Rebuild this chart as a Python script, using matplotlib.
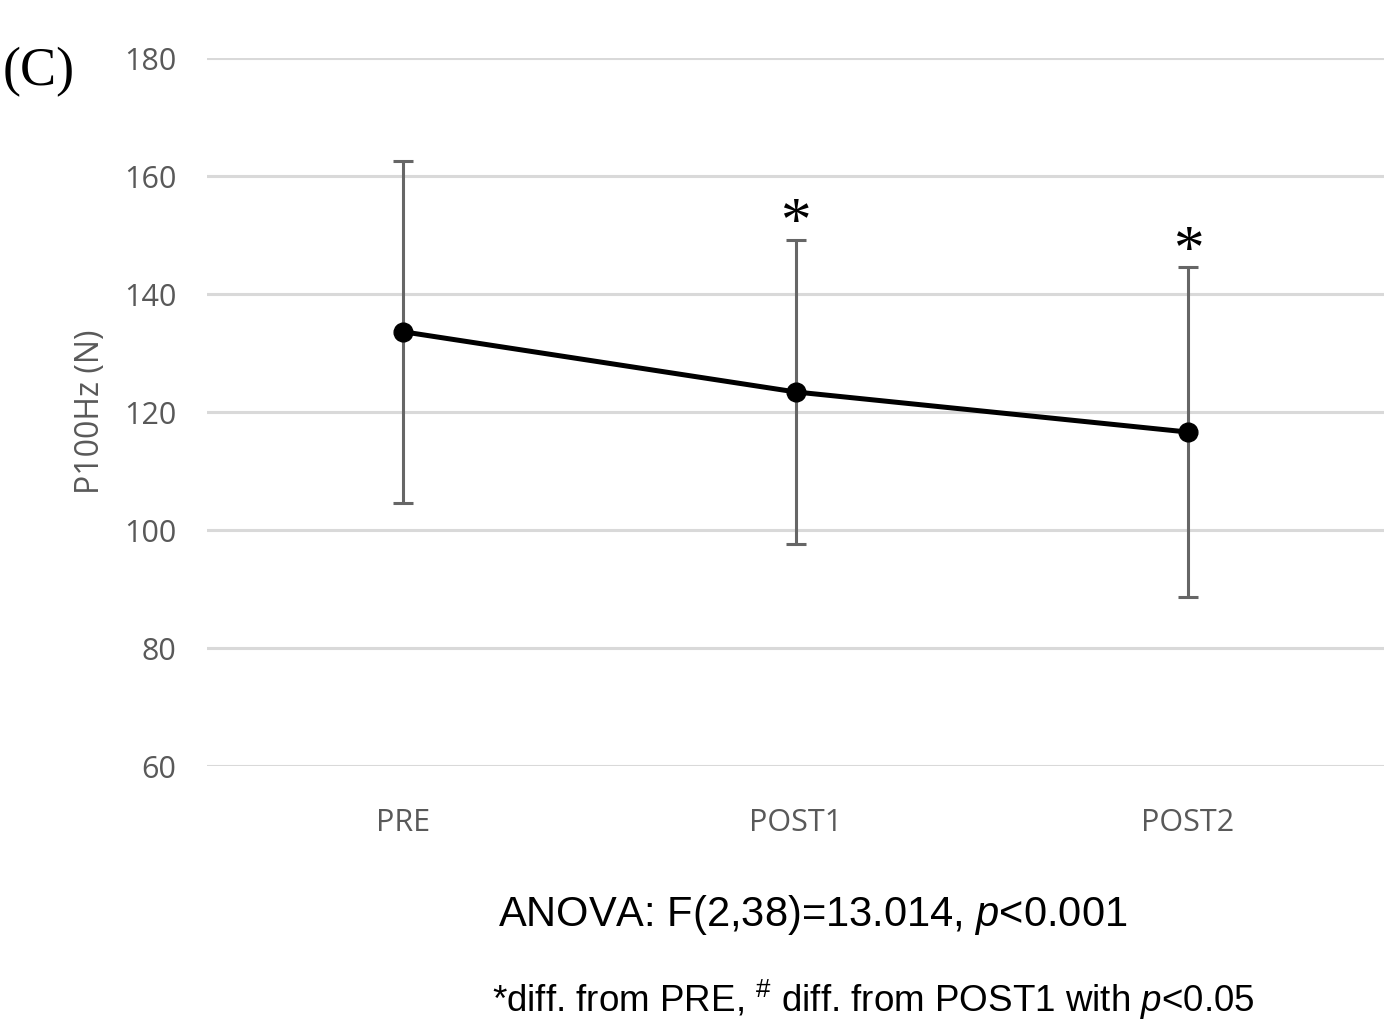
import matplotlib.pyplot as plt
import numpy as np

# P100Hz force at each time point (mean +/- SD)
categories = ['PRE', 'POST1', 'POST2']
means = [133.6, 123.4, 116.6]
sds = [29.0, 25.8, 27.9]
marks = ['', '*', '*']

plt.rcParams['mathtext.fontset'] = 'custom'
plt.rcParams['mathtext.rm'] = 'Liberation Sans'
plt.rcParams['mathtext.it'] = 'Liberation Sans:italic'

fig = plt.figure(figsize=(13.94, 10.25), dpi=100)
ax = fig.add_axes([207/1394, 1-766/1025, (1384-207)/1394, (766-58)/1025])

x = np.arange(len(categories))
ax.errorbar(x, means, yerr=sds, fmt='none', ecolor='#666666', elinewidth=2.2,
            capsize=7, capthick=2.2, zorder=2)
ax.plot(x, means, '-o', color='black', lw=3.6, ms=13.5, zorder=3)

for xi, m, s, mk in zip(x, means, sds, marks):
    if mk:
        ax.annotate(mk, (xi, m + s), xytext=(0, 0.5), textcoords='offset points',
                    ha='center', va='baseline', fontsize=44, family='Liberation Serif')

ax.set_xlim(-0.5, 2.5)
ax.set_ylim(60, 180)
ax.set_yticks(range(60, 181, 20))
ax.set_xticks(x)
ax.set_xticklabels(categories)
ax.yaxis.grid(True, color='#d9d9d9', lw=2.2)
ax.set_axisbelow(True)
for sp in ax.spines.values():
    sp.set_visible(False)
ax.tick_params(length=0, labelsize=22, labelcolor='#595959', pad=22)
ax.tick_params(axis='x', pad=30)
for lab in ax.get_xticklabels() + ax.get_yticklabels():
    lab.set_family('Open Sans')
ax.set_ylabel('P100Hz (N)', fontsize=23, color='#595959', family='Open Sans', labelpad=12)

fig.text(3/1394, 1-72/1025, '(C)', fontsize=39, family='Liberation Serif', va='center')
fig.text(813/1394, 1-915/1025, 'ANOVA: F(2,38)=13.014, $\\it{p}$<0.001',
         fontsize=30, family='Liberation Sans', ha='center', va='center')
fig.text(873/1394, 1-1000/1025, '*diff. from PRE, $^{\\#}$ diff. from POST1 with $\\it{p}$<0.05',
         fontsize=26.5, family='Liberation Sans', ha='center', va='center')

fig.savefig('out.png', dpi=100)
